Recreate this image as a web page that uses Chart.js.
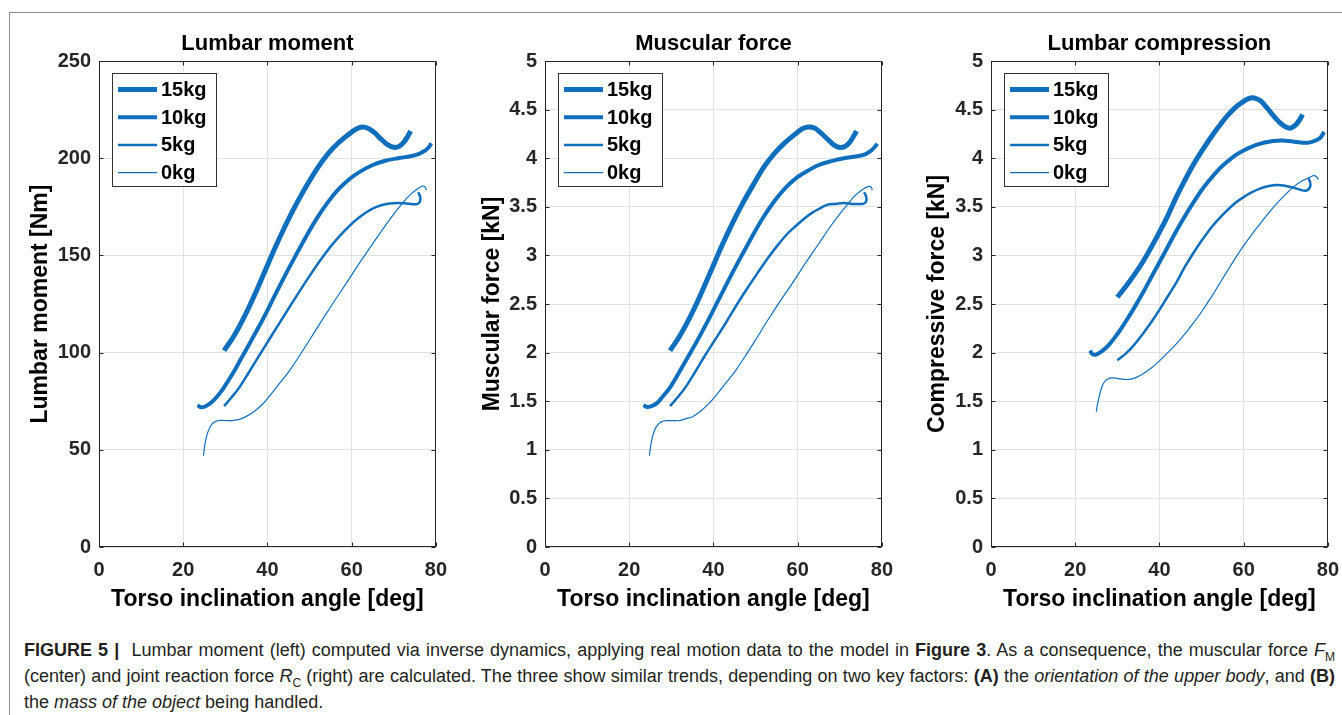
<!DOCTYPE html>
<html>
<head>
<meta charset="utf-8">
<script src="https://cdn.jsdelivr.net/npm/chart.js@4"></script>
<style>
  body { margin: 0; background: #fff; width: 1342px; height: 715px; overflow: hidden; position: relative; }
  .frame { position: absolute; left: 9px; top: 12px; width: 1400px; height: 800px; border-left: 1px solid #8c8c8c; border-top: 1px solid #8c8c8c; }
  canvas { position: absolute; top: 0; }
  #caption { position: absolute; left: 24px; top: 637px; width: 1311px; font-family: "Liberation Sans", Arial, sans-serif; font-size: 18px; line-height: 26px; color: #231f20; }
  #caption .j { white-space: nowrap; text-align: justify; text-align-last: justify; }
  #caption sub { font-size: 12px; line-height: 0; }
</style>
</head>
<body>
<div class="frame"></div>
<canvas id="moment" width="458" height="620" style="left:0px"></canvas>
<canvas id="muscle" width="458" height="620" style="left:446px"></canvas>
<canvas id="compression" width="458" height="620" style="left:892px"></canvas>
<div id="caption">
  <div class="j"><b>FIGURE 5 |</b>&nbsp; Lumbar moment (left) computed via inverse dynamics, applying real motion data to the model in <b>Figure 3</b>. As a consequence, the muscular force <i>F</i><sub>M</sub></div>
  <div class="j">(center) and joint reaction force <i>R</i><sub>C</sub> (right) are calculated. The three show similar trends, depending on two key factors: <b>(A)</b> the <i>orientation of the upper body</i>, and <b>(B)</b></div>
  <div>the <i>mass of the object</i> being handled.</div>
</div>
<script>
const massLabels = ['15kg', '10kg', '5kg', '0kg'];
const lineWidths = [5, 4, 2.5, 1.2];
const blue = '#0f6fbd';

// torso angle [deg] samples for lumbar moment and muscular force
const angle15 = [29.7, 32, 34.5, 37, 39.5, 42, 44.5, 47, 49.5, 52, 54.5, 57, 59.5, 61, 62.5, 64, 65.5, 67, 68.5, 70, 71.2, 72.3, 73.2, 74];
const angle10 = [23.4, 24.2, 25.3, 26.6, 28, 29.5, 31.5, 33.6, 36, 39.2, 42, 44.5, 46.6, 49, 51.8, 54.5, 57, 59.5, 62, 65, 68, 71, 74, 76, 77.5, 78.4, 78.9];
const angle5 = [29.7, 31.5, 33.3, 35.5, 38, 40.5, 43, 45.5, 48, 50.5, 52.9, 55, 57.5, 59.5, 61.6, 63.5, 65.1, 67, 69, 71, 73, 74.5, 75.5, 76.2, 76.3, 75.8];
const angle0 = [24.8, 25.1, 25.5, 26.1, 26.8, 27.7, 29, 30.5, 32, 33.5, 35, 37, 39, 41, 43, 45, 47.5, 50, 53, 56, 59, 62, 65, 68, 71, 73.5, 75.5, 76.9, 77.5, 77.7];

// lumbar moment [Nm]
const moment15 = [101, 108.4, 118.4, 129.9, 142.4, 154.8, 166.4, 177, 186.6, 195.3, 202.6, 208.2, 212.6, 214.9, 216, 215.3, 213, 209.8, 207, 205.6, 206, 208, 210.8, 214];
const moment10 = [73, 71.9, 72.4, 74.2, 77.3, 81.5, 88.3, 96.3, 105.6, 118.3, 130.5, 141, 149.5, 159, 169.3, 177.8, 184.3, 189.3, 193.1, 196.5, 198.7, 200, 201, 202.2, 204, 205.9, 207.7];
const moment5 = [72.5, 77, 82, 89.5, 98.3, 107, 115.7, 124.3, 132.8, 141, 148.5, 154.5, 160.8, 165.2, 169.2, 172.2, 174.2, 175.8, 176.7, 177, 176.7, 176.3, 176.4, 177.6, 180, 182.5];
const moment0 = [47, 52, 56.5, 60.5, 63.2, 64.6, 65.1, 65, 65.1, 65.8, 67.2, 70, 73.8, 79, 84.5, 90, 98, 106.5, 116.8, 126.8, 136.6, 146.5, 156, 165.3, 174, 180.4, 184, 185.7, 185, 183.6];

// muscular force [kN]
const muscle15 = [2.02, 2.17, 2.37, 2.6, 2.85, 3.1, 3.33, 3.54, 3.73, 3.91, 4.05, 4.16, 4.25, 4.3, 4.32, 4.31, 4.26, 4.2, 4.14, 4.11, 4.12, 4.16, 4.22, 4.28];
const muscle10 = [1.46, 1.44, 1.45, 1.48, 1.55, 1.63, 1.77, 1.93, 2.11, 2.37, 2.61, 2.82, 2.99, 3.18, 3.39, 3.56, 3.69, 3.79, 3.86, 3.93, 3.97, 4.0, 4.02, 4.04, 4.08, 4.12, 4.15];
const muscle5 = [1.45, 1.54, 1.64, 1.79, 1.97, 2.14, 2.31, 2.49, 2.66, 2.82, 2.97, 3.09, 3.22, 3.3, 3.38, 3.44, 3.48, 3.52, 3.53, 3.54, 3.53, 3.53, 3.53, 3.55, 3.6, 3.65];
const muscle0 = [0.94, 1.04, 1.13, 1.21, 1.26, 1.29, 1.3, 1.3, 1.3, 1.32, 1.34, 1.4, 1.48, 1.58, 1.69, 1.8, 1.96, 2.13, 2.34, 2.54, 2.73, 2.93, 3.12, 3.31, 3.48, 3.61, 3.68, 3.71, 3.7, 3.67];

// lumbar compression has its own angle samples
const compAngle15 = [30, 32, 34, 36, 38, 40, 42, 44, 46, 48, 50, 52, 54, 56, 58, 59.5, 61, 62.5, 64, 65.5, 67, 68.5, 70, 71.2, 72.3, 73.2, 74];
const compAngle10 = [23.5, 24.2, 25.2, 26.5, 28, 30, 32, 34, 36, 38, 40, 42, 44, 46, 48, 50, 52, 54, 56, 58, 60, 62, 64, 66, 68, 70, 72, 74, 75.5, 77, 78.2, 79.1];
const compAngle5 = [30, 32, 34, 36, 38, 40, 42, 44, 46, 48, 50, 52, 54, 56, 58, 60, 62, 64, 66, 68, 70, 72, 73.5, 74.5, 75.3, 75.8, 75.8, 75.4];
const compAngle0 = [25, 25.3, 25.7, 26.2, 26.8, 27.6, 28.7, 30, 31.5, 33, 34.5, 36, 38, 40, 42, 44, 46, 48, 50, 52, 54, 56, 58, 60, 62, 64, 66, 68, 70, 72, 74, 75.5, 76.6, 77.3, 77.7];
const comp15 = [2.57, 2.68, 2.8, 2.93, 3.08, 3.24, 3.41, 3.6, 3.77, 3.93, 4.07, 4.2, 4.32, 4.43, 4.52, 4.57, 4.61, 4.62, 4.59, 4.52, 4.44, 4.37, 4.32, 4.31, 4.34, 4.39, 4.45];
const comp10 = [2.02, 1.98, 1.985, 2.02, 2.08, 2.19, 2.32, 2.46, 2.61, 2.77, 2.93, 3.09, 3.25, 3.4, 3.54, 3.67, 3.78, 3.88, 3.96, 4.03, 4.08, 4.12, 4.15, 4.17, 4.18, 4.18, 4.17, 4.16, 4.16, 4.18, 4.21, 4.27];
const comp5 = [1.92, 1.99, 2.08, 2.19, 2.31, 2.44, 2.58, 2.72, 2.88, 3.02, 3.15, 3.27, 3.37, 3.46, 3.54, 3.6, 3.65, 3.69, 3.715, 3.725, 3.715, 3.695, 3.675, 3.665, 3.675, 3.71, 3.75, 3.79];
const comp0 = [1.39, 1.47, 1.55, 1.63, 1.69, 1.725, 1.74, 1.735, 1.725, 1.725, 1.745, 1.78, 1.84, 1.915, 2.0, 2.09, 2.19, 2.3, 2.42, 2.55, 2.69, 2.83, 2.97, 3.1, 3.22, 3.33, 3.44, 3.54, 3.63, 3.71, 3.77, 3.8, 3.82, 3.81, 3.78];

const font = '"Liberation Sans", Arial, Helvetica, sans-serif';

function pts(xs, ys) {
    return xs.map(function(x, i) { return {x: x, y: ys[i]}; });
}

// box, inward ticks, title and the legend inside the axes
var matlabAxes = {
    id: 'matlabAxes',
    beforeDatasetsDraw: function(chart, args, opts) {
        var ctx = chart.ctx, a = chart.chartArea;
        var L = Math.round(a.left) + 0.5, R = Math.round(a.right) - 0.5;
        var T = Math.round(a.top) + 0.5, B = Math.round(a.bottom) - 0.5;
        ctx.save();
        ctx.strokeStyle = '#262626';
        ctx.lineWidth = 1;
        ctx.beginPath();
        chart.scales.x.ticks.forEach(function(t) {
            var px = Math.round(chart.scales.x.getPixelForValue(t.value)) + 0.5;
            ctx.moveTo(px, B); ctx.lineTo(px, B - 4);
            ctx.moveTo(px, T); ctx.lineTo(px, T + 4);
        });
        chart.scales.y.ticks.forEach(function(t) {
            var py = Math.round(chart.scales.y.getPixelForValue(t.value)) + 0.5;
            ctx.moveTo(L, py); ctx.lineTo(L + 4, py);
            ctx.moveTo(R, py); ctx.lineTo(R - 4, py);
        });
        ctx.stroke();
        ctx.strokeRect(L, T, R - L, B - T);
        ctx.restore();
    },
    afterDatasetsDraw: function(chart, args, opts) {
        var ctx = chart.ctx, a = chart.chartArea;
        ctx.save();
        ctx.fillStyle = '#000';
        ctx.font = 'bold 22px ' + font;
        ctx.textAlign = 'center';
        ctx.textBaseline = 'alphabetic';
        ctx.fillText(opts.title, (a.left + a.right) / 2, 50);

        var lx = Math.round(a.left) + 13, ly = Math.round(a.top) + 12;
        ctx.fillStyle = '#fff';
        ctx.fillRect(lx, ly, 104, 113);
        ctx.strokeStyle = '#333';
        ctx.lineWidth = 1;
        ctx.strokeRect(lx + 0.5, ly + 0.5, 104, 113);
        ctx.font = 'bold 20px ' + font;
        ctx.textAlign = 'left';
        ctx.textBaseline = 'middle';
        chart.data.datasets.forEach(function(ds, i) {
            var yy = ly + 16.5 + i * 27.7;
            ctx.strokeStyle = ds.borderColor;
            ctx.lineWidth = ds.borderWidth;
            ctx.beginPath();
            ctx.moveTo(lx + 6, yy);
            ctx.lineTo(lx + 45, yy);
            ctx.stroke();
            ctx.fillStyle = '#000';
            ctx.fillText(ds.label, lx + 49, yy + 1);
        });
        ctx.restore();
    }
};

function makeChart(id, title, yTitle, yMax, yStep, yTitlePad, series) {
    var datasets = series.map(function(s, i) {
        return {
            label: massLabels[i],
            data: s,
            showLine: true,
            borderColor: blue,
            backgroundColor: blue,
            borderWidth: lineWidths[i],
            borderJoinStyle: 'round',
            pointRadius: 0,
            tension: 0.35
        };
    });
    return new Chart(document.getElementById(id), {
        type: 'scatter',
        data: { datasets: datasets },
        plugins: [matlabAxes],
        options: {
            responsive: false,
            animation: false,
            layout: { padding: { top: 61, right: 20, left: 0, bottom: 0 } },
            plugins: {
                legend: { display: false },
                tooltip: { enabled: false },
                matlabAxes: { title: title }
            },
            scales: {
                x: {
                    type: 'linear', min: 0, max: 80,
                    afterFit: function(s) { s.height = 73; },
                    ticks: { stepSize: 20, padding: 11, color: '#262626', font: { family: font, size: 20, weight: 'bold' } },
                    grid: { color: '#e2e2e2', drawTicks: false },
                    border: { display: false },
                    title: { display: true, text: 'Torso inclination angle [deg]', color: '#000', padding: { top: 0, bottom: 7 },
                             font: { family: font, size: 23, weight: 'bold' } }
                },
                y: {
                    type: 'linear', min: 0, max: yMax,
                    afterFit: function(s) { s.width = 99; },
                    ticks: { stepSize: yStep, padding: 8, color: '#262626', font: { family: font, size: 20, weight: 'bold' },
                             callback: function(v) { return String(Math.round(v * 10) / 10); } },
                    grid: { color: '#e2e2e2', drawTicks: false },
                    border: { display: false },
                    title: { display: true, text: yTitle, color: '#000', padding: { top: yTitlePad, bottom: 0 },
                             font: { family: font, size: 23, weight: 'bold' } }
                }
            }
        }
    });
}

makeChart('moment', 'Lumbar moment', 'Lumbar moment [Nm]', 250, 50, 27,
    [pts(angle15, moment15), pts(angle10, moment10), pts(angle5, moment5), pts(angle0, moment0)]);
makeChart('muscle', 'Muscular force', 'Muscular force [kN]', 5, 0.5, 33,
    [pts(angle15, muscle15), pts(angle10, muscle10), pts(angle5, muscle5), pts(angle0, muscle0)]);
makeChart('compression', 'Lumbar compression', 'Compressive force [kN]', 5, 0.5, 32,
    [pts(compAngle15, comp15), pts(compAngle10, comp10), pts(compAngle5, comp5), pts(compAngle0, comp0)]);
</script>
</body>
</html>
